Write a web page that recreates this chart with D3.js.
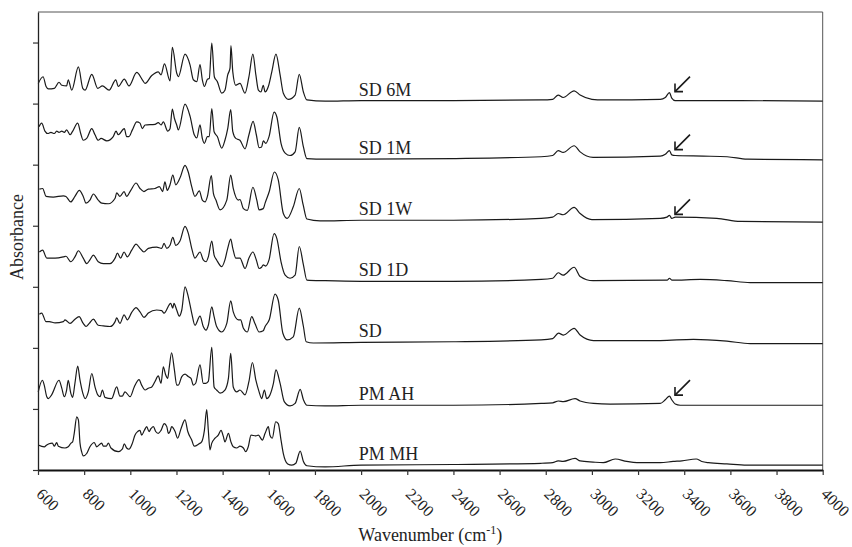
<!DOCTYPE html>
<html>
<head>
<meta charset="utf-8">
<script src="https://cdn.jsdelivr.net/npm/d3@7"></script>
<style>
  body { margin: 0; background: #fff; }
  text { font-family: "Liberation Serif", "Times New Roman", serif; fill: #222; }
</style>
</head>
<body>
<div id="chart"></div>
<script>
// spectra as [wavenumber, absorbance] (already stacked)
var sd6m = [[601,6.33],[622,6.44],[635,6.28],[645,6.24],[671,6.25],[691,6.35],[703,6.30],[724,6.29],[731,6.39],[746,6.22],[775,6.60],[794,6.25],[804,6.22],[833,6.48],[859,6.25],[879,6.29],[908,6.22],[937,6.39],[948,6.28],[974,6.40],[994,6.29],[1028,6.51],[1052,6.39],[1064,6.33],[1093,6.46],[1121,6.52],[1133,6.47],[1148,6.65],[1172,6.37],[1182,6.92],[1201,6.50],[1208,6.44],[1237,6.81],[1259,6.63],[1273,6.39],[1288,6.36],[1302,6.64],[1312,6.39],[1321,6.28],[1334,6.40],[1342,6.41],[1353,6.99],[1364,6.44],[1377,6.36],[1396,6.17],[1410,6.22],[1422,6.47],[1432,6.58],[1436,6.95],[1444,6.52],[1457,6.30],[1475,6.33],[1497,6.17],[1514,6.44],[1531,6.81],[1544,6.47],[1555,6.22],[1566,6.19],[1576,6.30],[1584,6.19],[1598,6.28],[1613,6.52],[1631,6.81],[1649,6.47],[1663,6.17],[1685,6.07],[1714,6.14],[1732,6.48],[1750,6.19],[1765,6.06],[1844,6.04],[2000,6.05],[2400,6.05],[2780,6.06],[2830,6.07],[2854,6.14],[2875,6.10],[2923,6.21],[2949,6.14],[3000,6.07],[3049,6.06],[3296,6.07],[3318,6.10],[3336,6.18],[3346,6.09],[3361,6.05],[3585,6.05],[4000,6.04]];

var sd1m = [[604,5.62],[616,5.68],[630,5.55],[642,5.51],[656,5.53],[671,5.51],[681,5.55],[691,5.53],[703,5.55],[714,5.53],[724,5.57],[739,5.49],[749,5.54],[772,5.68],[785,5.51],[796,5.40],[811,5.43],[833,5.59],[847,5.49],[861,5.40],[873,5.43],[898,5.39],[926,5.46],[938,5.55],[948,5.49],[974,5.59],[984,5.46],[994,5.46],[1009,5.57],[1028,5.70],[1042,5.68],[1052,5.59],[1064,5.65],[1107,5.66],[1121,5.69],[1133,5.65],[1143,5.70],[1162,5.55],[1172,5.59],[1182,5.91],[1191,5.76],[1201,5.65],[1208,5.57],[1237,5.99],[1259,5.79],[1277,5.49],[1288,5.44],[1302,5.65],[1312,5.43],[1321,5.35],[1334,5.46],[1342,5.46],[1353,5.92],[1363,5.54],[1377,5.46],[1396,5.27],[1410,5.40],[1422,5.59],[1435,5.90],[1444,5.54],[1457,5.43],[1475,5.40],[1497,5.26],[1514,5.49],[1532,5.71],[1546,5.49],[1558,5.28],[1569,5.29],[1576,5.39],[1587,5.35],[1601,5.46],[1623,5.86],[1635,5.78],[1653,5.35],[1671,5.19],[1692,5.15],[1714,5.21],[1732,5.61],[1750,5.29],[1765,5.10],[1844,5.09],[2000,5.09],[2400,5.10],[2780,5.13],[2830,5.15],[2854,5.23],[2875,5.20],[2923,5.31],[2949,5.21],[3005,5.12],[3296,5.14],[3318,5.17],[3336,5.23],[3346,5.16],[3361,5.15],[3482,5.14],[3586,5.13],[3673,5.09],[4000,5.08]];

var sd1w = [[606,4.60],[620,4.61],[635,4.48],[666,4.47],[710,4.49],[721,4.48],[742,4.39],[760,4.48],[779,4.58],[796,4.48],[808,4.37],[825,4.42],[840,4.52],[861,4.42],[876,4.37],[905,4.36],[934,4.45],[941,4.54],[955,4.48],[973,4.56],[984,4.48],[1002,4.58],[1025,4.70],[1042,4.61],[1059,4.56],[1078,4.60],[1107,4.61],[1126,4.64],[1140,4.56],[1150,4.72],[1160,4.58],[1172,4.67],[1184,4.83],[1197,4.67],[1215,4.78],[1237,4.99],[1251,4.88],[1266,4.64],[1280,4.48],[1299,4.57],[1312,4.42],[1324,4.39],[1334,4.48],[1351,4.82],[1360,4.53],[1371,4.42],[1389,4.26],[1418,4.42],[1435,4.83],[1446,4.61],[1468,4.42],[1475,4.43],[1490,4.28],[1507,4.25],[1531,4.63],[1548,4.42],[1558,4.26],[1576,4.28],[1584,4.37],[1602,4.56],[1624,4.88],[1641,4.75],[1663,4.20],[1680,4.12],[1706,4.31],[1732,4.61],[1749,4.34],[1765,4.11],[1822,4.08],[2000,4.09],[2400,4.09],[2780,4.12],[2830,4.14],[2854,4.20],[2875,4.18],[2923,4.30],[2949,4.20],[3000,4.10],[3296,4.12],[3325,4.14],[3336,4.17],[3346,4.12],[3361,4.14],[3541,4.12],[3643,4.07],[4000,4.06]];

var sd1d = [[606,3.57],[620,3.60],[638,3.47],[674,3.47],[710,3.49],[721,3.50],[742,3.41],[760,3.49],[775,3.59],[796,3.47],[811,3.38],[825,3.44],[840,3.52],[861,3.41],[883,3.38],[912,3.38],[934,3.47],[944,3.55],[958,3.47],[973,3.57],[987,3.49],[1006,3.60],[1025,3.70],[1042,3.63],[1059,3.57],[1078,3.63],[1114,3.65],[1136,3.63],[1146,3.71],[1158,3.63],[1172,3.68],[1184,3.81],[1197,3.68],[1215,3.75],[1237,3.99],[1251,3.88],[1266,3.63],[1280,3.47],[1302,3.57],[1316,3.44],[1328,3.41],[1338,3.49],[1353,3.75],[1363,3.52],[1374,3.44],[1396,3.33],[1410,3.44],[1422,3.63],[1435,3.78],[1444,3.63],[1457,3.47],[1475,3.47],[1497,3.30],[1514,3.47],[1531,3.57],[1546,3.44],[1558,3.30],[1569,3.32],[1576,3.36],[1587,3.34],[1601,3.44],[1623,3.87],[1635,3.79],[1653,3.41],[1671,3.19],[1692,3.14],[1714,3.19],[1732,3.66],[1750,3.36],[1765,3.11],[1844,3.10],[2000,3.09],[2400,3.09],[2780,3.12],[2830,3.14],[2854,3.23],[2875,3.19],[2923,3.32],[2949,3.17],[3005,3.10],[3327,3.11],[3336,3.14],[3346,3.11],[3470,3.12],[3586,3.10],[3686,3.07],[4000,3.07]];

var sd = [[606,2.55],[616,2.57],[635,2.43],[649,2.43],[674,2.41],[710,2.43],[717,2.46],[739,2.40],[760,2.47],[778,2.51],[796,2.40],[808,2.35],[822,2.40],[840,2.47],[861,2.37],[883,2.36],[912,2.35],[934,2.43],[941,2.49],[955,2.40],[973,2.54],[987,2.46],[1006,2.58],[1025,2.66],[1042,2.59],[1059,2.50],[1078,2.57],[1114,2.62],[1136,2.61],[1146,2.57],[1175,2.73],[1184,2.65],[1189,2.73],[1201,2.62],[1212,2.52],[1223,2.62],[1237,3.00],[1251,2.84],[1266,2.57],[1280,2.37],[1302,2.52],[1316,2.35],[1328,2.29],[1338,2.37],[1353,2.67],[1363,2.51],[1374,2.35],[1396,2.26],[1418,2.40],[1435,2.77],[1446,2.59],[1468,2.46],[1478,2.46],[1490,2.32],[1507,2.26],[1526,2.51],[1540,2.40],[1558,2.26],[1576,2.28],[1584,2.35],[1602,2.46],[1627,2.88],[1641,2.78],[1661,2.24],[1680,2.13],[1706,2.18],[1732,2.65],[1750,2.35],[1762,2.10],[1793,2.08],[2000,2.09],[2400,2.10],[2780,2.13],[2830,2.15],[2855,2.24],[2877,2.21],[2923,2.32],[2949,2.21],[3007,2.12],[3296,2.12],[3440,2.14],[3585,2.11],[3686,2.07],[4000,2.07]];

var pmah = [[601,1.28],[619,1.47],[627,1.39],[638,1.20],[645,1.17],[659,1.23],[691,1.47],[703,1.34],[714,1.20],[724,1.31],[731,1.47],[742,1.26],[750,1.19],[760,1.42],[772,1.70],[782,1.47],[794,1.26],[804,1.17],[818,1.28],[833,1.58],[847,1.36],[859,1.23],[869,1.20],[879,1.31],[890,1.19],[919,1.17],[941,1.36],[955,1.21],[965,1.21],[977,1.28],[999,1.20],[1017,1.36],[1038,1.48],[1049,1.39],[1064,1.31],[1078,1.34],[1093,1.36],[1107,1.45],[1121,1.54],[1133,1.42],[1143,1.69],[1153,1.56],[1162,1.50],[1169,1.69],[1179,1.92],[1191,1.64],[1201,1.39],[1208,1.39],[1223,1.53],[1237,1.57],[1251,1.53],[1263,1.50],[1273,1.39],[1283,1.42],[1302,1.72],[1316,1.42],[1327,1.42],[1338,1.45],[1353,2.01],[1363,1.36],[1374,1.31],[1389,1.26],[1410,1.31],[1425,1.50],[1435,1.91],[1446,1.36],[1461,1.28],[1475,1.31],[1497,1.23],[1514,1.45],[1529,1.76],[1544,1.47],[1558,1.28],[1569,1.17],[1581,1.31],[1591,1.17],[1605,1.23],[1620,1.42],[1631,1.64],[1649,1.42],[1667,1.12],[1692,1.05],[1714,1.09],[1736,1.32],[1750,1.15],[1765,1.06],[1844,1.05],[2000,1.06],[2400,1.06],[2780,1.09],[2830,1.10],[2855,1.13],[2877,1.12],[2927,1.17],[2949,1.13],[3007,1.09],[3079,1.08],[3296,1.09],[3318,1.15],[3336,1.21],[3346,1.15],[3361,1.08],[3382,1.06],[4000,1.06]];

var pmmh = [[601,0.41],[627,0.38],[638,0.41],[648,0.43],[662,0.44],[671,0.39],[681,0.45],[688,0.39],[717,0.36],[731,0.38],[743,0.44],[750,0.46],[757,0.60],[768,0.87],[775,0.82],[782,0.44],[789,0.30],[796,0.23],[811,0.27],[825,0.38],[844,0.45],[854,0.38],[876,0.44],[883,0.39],[895,0.39],[905,0.44],[916,0.36],[948,0.30],[965,0.34],[974,0.43],[984,0.36],[994,0.34],[1009,0.44],[1020,0.57],[1032,0.63],[1042,0.65],[1049,0.57],[1061,0.65],[1071,0.71],[1081,0.63],[1090,0.68],[1100,0.71],[1110,0.63],[1121,0.60],[1133,0.65],[1147,0.76],[1158,0.71],[1165,0.60],[1172,0.63],[1179,0.71],[1194,0.63],[1205,0.52],[1220,0.68],[1237,0.82],[1249,0.63],[1266,0.49],[1277,0.39],[1298,0.43],[1309,0.46],[1321,0.65],[1331,0.99],[1338,0.65],[1345,0.33],[1353,0.44],[1367,0.52],[1381,0.57],[1393,0.65],[1403,0.55],[1410,0.46],[1425,0.60],[1436,0.46],[1446,0.38],[1461,0.36],[1475,0.39],[1490,0.36],[1500,0.30],[1511,0.38],[1523,0.57],[1544,0.56],[1555,0.57],[1572,0.49],[1584,0.60],[1598,0.71],[1605,0.57],[1615,0.52],[1630,0.79],[1641,0.76],[1653,0.49],[1663,0.27],[1682,0.10],[1700,0.08],[1717,0.11],[1736,0.31],[1750,0.14],[1765,0.07],[1844,0.05],[2000,0.08],[2400,0.09],[2780,0.11],[2830,0.12],[2854,0.15],[2875,0.14],[2927,0.19],[2949,0.15],[3005,0.13],[3049,0.12],[3101,0.18],[3151,0.14],[3195,0.12],[3296,0.12],[3352,0.14],[3390,0.15],[3452,0.18],[3476,0.14],[3505,0.12],[3585,0.10],[3671,0.08],[4000,0.08]];

var seriesNames = ["SD 6M", "SD 1M", "SD 1W", "SD 1D", "SD", "PM AH", "PM MH"];
var seriesData = [sd6m, sd1m, sd1w, sd1d, sd, pmah, pmmh];
var arrowSeries = ["SD 6M", "SD 1M", "SD 1W", "PM AH"];
var arrowPeak = 3336;
var labelAt = 2000;
var xTicks = d3.range(600, 4001, 200);
var yTicks = [0, 1, 2, 3, 4, 5, 6, 7];

// dimensions
var margin = {top: 12, right: 29.3, bottom: 77, left: 38},
    width = 852 - margin.left - margin.right,
    height = 547 - margin.top - margin.bottom;

var svg = d3.select("#chart")
  .append("svg")
    .attr("width", 852)
    .attr("height", 547)
  .append("g")
    .attr("transform", "translate(" + margin.left + "," + margin.top + ")");

var x = d3.scaleLinear().domain([600, 4000]).range([0, width]);
var y = d3.scaleLinear().domain([0, 7.5]).range([height, 0]);

// frame (top and right)
svg.append("path")
  .attr("d", "M0,0H" + width + "V" + height)
  .attr("fill", "none")
  .attr("stroke", "#555")
  .attr("stroke-width", 1);

// spectra
var line = d3.line()
  .x(function(d) { return x(d[0]); })
  .y(function(d) { return y(d[1]); })
  .curve(d3.curveMonotoneX);

svg.selectAll(".spec")
  .data(seriesData)
  .enter()
  .append("path")
    .attr("class", "spec")
    .attr("d", line)
    .attr("fill", "none")
    .attr("stroke", "#1a1a1a")
    .attr("stroke-width", 1.2);

// series labels, just above each trace's flat part
var bis = d3.bisector(function(d) { return d[0]; }).left;
seriesNames.forEach(function(name, i) {
  var pts = seriesData[i];
  var v = pts[bis(pts, labelAt)][1];
  svg.append("text")
    .attr("x", x(1990))
    .attr("y", y(v) - 5)
    .attr("font-size", 18)
    .text(name);
});

// arrows at the ~3336 peak
arrowSeries.forEach(function(name) {
  var pts = seriesData[seriesNames.indexOf(name)];
  var v = pts[bis(pts, arrowPeak)][1];
  var hx = x(3360), hy = y(v) - 1;
  var g = svg.append("g")
    .attr("stroke", "#1a1a1a")
    .attr("stroke-width", 1.6)
    .attr("fill", "none");
  g.append("line").attr("x1", hx).attr("y1", hy).attr("x2", hx + 15).attr("y2", hy - 15);
  g.append("path").attr("d", "M" + (hx + 8) + "," + hy + "H" + hx + "V" + (hy - 8));
});

// x axis
var xAxis = svg.append("g")
  .attr("transform", "translate(0," + height + ")")
  .call(d3.axisBottom(x).tickValues(xTicks).tickSize(5).tickSizeOuter(0).tickFormat(d3.format("d")));
xAxis.select(".domain").attr("stroke", "#111").attr("stroke-width", 2.2);
xAxis.selectAll(".tick line").attr("stroke", "#333").attr("stroke-width", 1.2);
xAxis.selectAll(".tick text")
  .attr("x", 0).attr("y", 0).attr("dy", 0)
  .attr("transform", "translate(-3,25) rotate(45)")
  .attr("text-anchor", "start")
  .attr("font-family", "Liberation Serif, serif")
  .attr("font-size", 16)
  .attr("fill", "#222");

// y axis (no labels)
var yAxis = svg.append("g")
  .call(d3.axisLeft(y).tickValues(yTicks).tickSize(5).tickSizeOuter(0).tickFormat(""));
yAxis.select(".domain").attr("stroke", "#222").attr("stroke-width", 1.3);
yAxis.selectAll(".tick line").attr("stroke", "#333").attr("stroke-width", 1.2);

// axis titles
var xt = svg.append("text")
  .attr("x", width / 2)
  .attr("y", height + 71)
  .attr("text-anchor", "middle")
  .attr("font-size", 18);
xt.append("tspan").text("Wavenumber (cm");
xt.append("tspan").attr("font-size", 12).attr("dy", -7).text("-1");
xt.append("tspan").attr("dy", 7).text(")");

svg.append("text")
  .attr("transform", "translate(" + (23 - margin.left) + "," + (237 - margin.top) + ") rotate(-90)")
  .attr("text-anchor", "middle")
  .attr("font-size", 18)
  .text("Absorbance");
</script>
</body>
</html>
